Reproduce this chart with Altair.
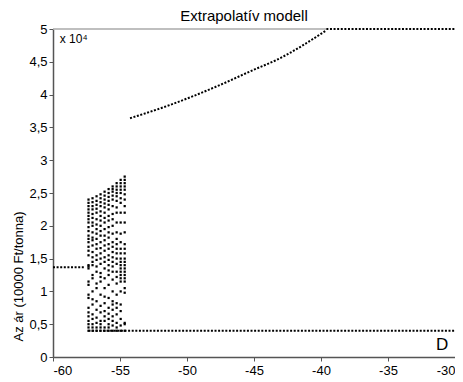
import altair as alt
import pandas as pd

# horizontal/curve series (key points)
low_x = [-60.0, -57.6]
low_y = [1.37, 1.37]
floor_x = [-57.35, -30.0]
floor_y = [0.40, 0.40]
curve_x = [-54.25, -51.3, -47.5, -45.0, -43.3, -39.6]
curve_y = [3.64, 3.84, 4.15, 4.38, 4.53, 4.98]
cap_x = [-39.6, -30.0]
cap_y = [5.0, 5.0]

col_x = [-57.35, -57.05, -56.75, -56.45, -56.15, -55.85, -55.55, -55.25, -54.95, -54.65]
col_y = [
    [0.40,0.45,0.50,0.55,0.62,0.68,0.75,0.90,0.95,1.10,1.15,1.35,1.38,1.40,1.55,1.62,1.68,1.75,1.80,1.85,1.92,1.98,2.05,2.10,2.15,2.20,2.25,2.30,2.35,2.40],
    [0.40,0.45,0.50,0.58,0.65,0.80,0.88,1.00,1.20,1.25,1.40,1.45,1.52,1.60,1.70,1.78,1.82,1.90,2.00,2.05,2.12,2.18,2.25,2.30,2.36,2.42],
    [0.40,0.45,0.52,0.60,0.72,0.85,1.05,1.12,1.30,1.38,1.48,1.55,1.65,1.72,1.80,1.88,1.95,2.02,2.10,2.20,2.26,2.32,2.38,2.45],
    [0.40,0.45,0.50,0.55,0.68,0.78,0.95,1.15,1.22,1.28,1.42,1.50,1.58,1.66,1.75,1.85,1.92,2.00,2.08,2.15,2.22,2.30,2.36,2.42,2.48],
    [0.40,0.45,0.55,0.62,0.70,0.82,0.92,1.05,1.20,1.35,1.45,1.52,1.62,1.70,1.78,1.85,1.95,2.05,2.12,2.20,2.28,2.34,2.40,2.46,2.52],
    [0.40,0.45,0.50,0.58,0.66,0.75,0.90,1.10,1.25,1.32,1.40,1.48,1.55,1.65,1.72,1.82,1.90,1.98,2.08,2.15,2.25,2.32,2.38,2.44,2.50,2.56],
    [0.40,0.48,0.55,0.62,0.72,0.80,0.85,1.00,1.18,1.30,1.38,1.45,1.52,1.60,1.68,1.75,1.88,2.00,2.10,2.18,2.30,2.40,2.46,2.52,2.56,2.60],
    [0.40,0.45,0.52,0.65,0.75,0.82,0.95,1.12,1.22,1.30,1.42,1.50,1.58,1.65,1.72,1.80,1.90,2.05,2.20,2.28,2.38,2.45,2.50,2.55,2.60,2.65],
    [0.40,0.48,0.58,0.70,0.80,1.00,1.15,1.20,1.25,1.30,1.35,1.40,1.45,1.50,1.58,1.65,1.75,1.88,2.05,2.20,2.35,2.42,2.50,2.55,2.60,2.65,2.70],
    [0.40,0.50,0.52,0.98,1.05,1.15,1.20,1.25,1.30,1.35,1.40,1.45,1.50,1.58,1.65,1.72,1.90,2.05,2.20,2.30,2.40,2.48,2.55,2.60,2.65,2.70,2.75],
]

x_ticks = [-60, -55, -50, -45, -40, -35, -30]
y_ticks = [0, 0.5, 1, 1.5, 2, 2.5, 3, 3.5, 4, 4.5, 5]

FONT = "Liberation Sans"

lines = pd.concat([
    pd.DataFrame({"x": low_x, "y": low_y, "s": "low"}),
    pd.DataFrame({"x": floor_x, "y": floor_y, "s": "floor"}),
    pd.DataFrame({"x": curve_x, "y": curve_y, "s": "curve"}),
    pd.DataFrame({"x": cap_x, "y": cap_y, "s": "cap"}),
])

pts = pd.DataFrame(
    [{"x": cx, "y": yy} for cx, ys in zip(col_x, col_y) for yy in ys]
)

xs = alt.Scale(domain=[-60, -30], nice=False, zero=False)
ys_ = alt.Scale(domain=[0, 5], nice=False)

xax = alt.Axis(values=x_ticks, labelExpr="'' + datum.value", title=None, grid=False,
               domainColor="#555", tickColor="#555", tickSize=4, labelFontSize=13,
               labelFont=FONT, labelColor="black", labelPadding=3, domainWidth=1.5)
yax = alt.Axis(values=y_ticks, labelExpr="replace('' + datum.value, '.', ',')",
               title="Az ár (10000 Ft/tonna)", titleFont=FONT, titleFontSize=13,
               titleFontWeight="normal", titleColor="black",
               titleX=-34.5, titleY=247, titleAngle=270, titleAlign="center",
               titleBaseline="middle",
               grid=False, domainColor="#555", tickColor="#555", tickSize=4,
               labelFontSize=13, labelFont=FONT, labelColor="black", labelPadding=2,
               domainWidth=1.5, labelOverlap=False)

topline = alt.Chart(pd.DataFrame({"x": [-60.0], "x2": [-39.6], "y": [5.0]})).mark_rule(
    color="#aaa", strokeWidth=1.5
).encode(x=alt.X("x:Q", scale=xs, axis=xax), x2="x2:Q",
         y=alt.Y("y:Q", scale=ys_, axis=yax))

base_line = alt.Chart(lines).mark_line(
    color="black", strokeWidth=2, strokeDash=[2, 1.6], interpolate="monotone"
).encode(
    x=alt.X("x:Q", scale=xs, axis=xax),
    y=alt.Y("y:Q", scale=ys_, axis=yax),
    detail="s:N",
)

dots = alt.Chart(pts).mark_square(color="black", size=5, opacity=1).encode(
    x=alt.X("x:Q", scale=xs, axis=xax), y=alt.Y("y:Q", scale=ys_, axis=yax)
)

texts = pd.DataFrame({"x": [-59.5], "y": [4.85], "t": ["x 10⁴"]})
t1 = alt.Chart(texts).mark_text(align="left", baseline="middle", font=FONT, fontSize=12,
                                color="black").encode(
    x=alt.X("x:Q", scale=xs, axis=xax), y=alt.Y("y:Q", scale=ys_, axis=yax), text="t:N")
t2 = alt.Chart(pd.DataFrame({"x": [-30.5], "y": [0.18], "t": ["D"]})).mark_text(
    align="right", baseline="middle", font=FONT, fontSize=17, color="black").encode(
    x=alt.X("x:Q", scale=xs, axis=xax), y=alt.Y("y:Q", scale=ys_, axis=yax), text="t:N")

chart = alt.layer(topline, base_line, dots, t1, t2).properties(
    width=402, height=328,
    title=alt.TitleParams("Extrapolatív modell", font=FONT, fontSize=15,
                          fontWeight="normal", color="black", offset=-1,
                          frame="group", dx=-10),
    autosize=alt.AutoSizeParams(type="none"),
    padding={"left": 45, "top": 21, "right": 0, "bottom": 20},
).configure_view(stroke=None)

chart.save("out.html", embed_options={"renderer": "svg", "actions": False})
